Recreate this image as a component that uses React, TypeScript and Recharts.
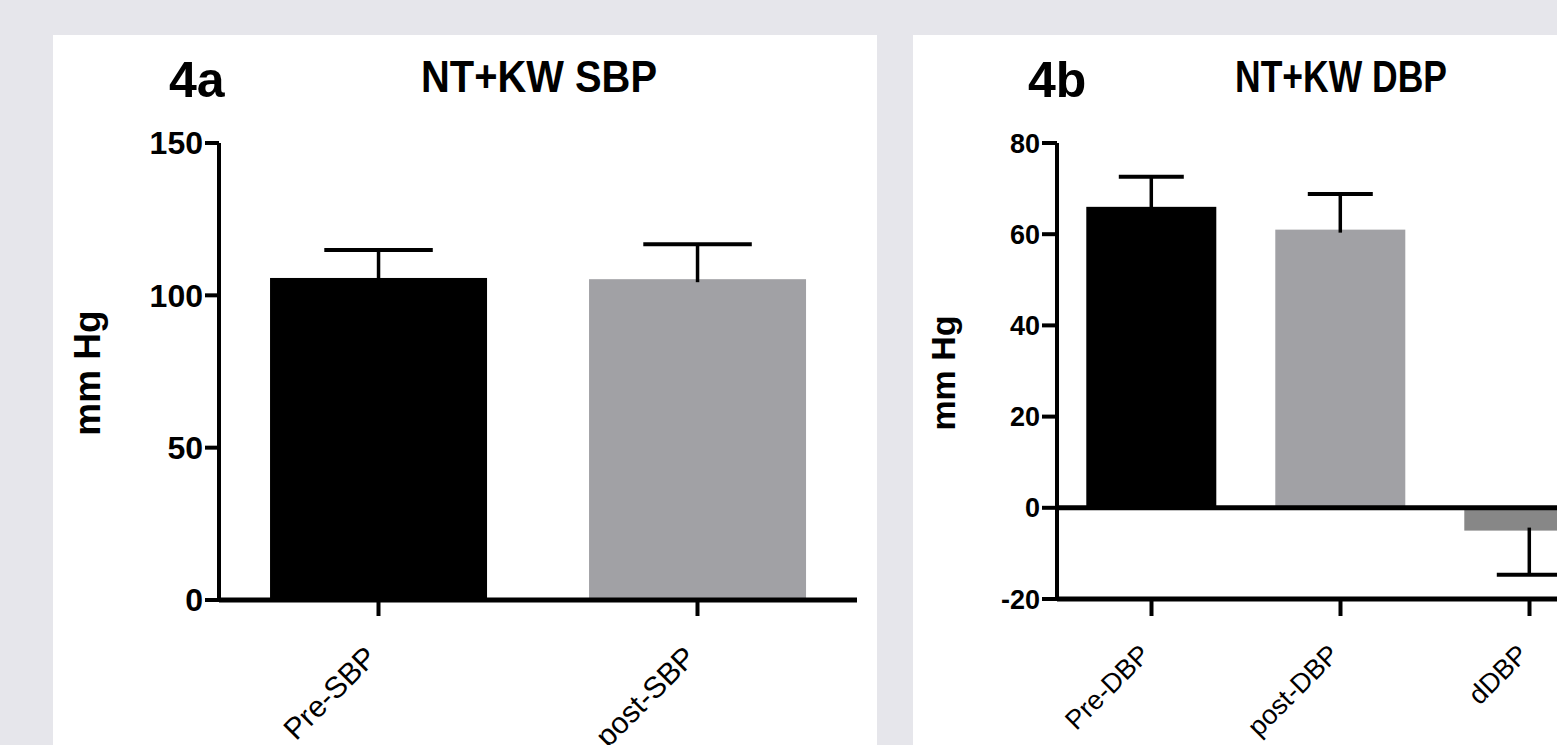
import React from 'react';
import { BarChart, Bar, XAxis, YAxis, Cell, ReferenceLine } from 'recharts';

// 4a: systolic
const sbpCategories = ['Pre-SBP', 'post-SBP'];
const sbpMeans = [105.7, 105.3];
const sbpErrors = [9.2, 11.5];
const sbpTicks = [0, 50, 100, 150];

// 4b: diastolic
const dbpCategories = ['Pre-DBP', 'post-DBP', 'dDBP'];
const dbpMeans = [66.0, 61.0, -5.0];
const dbpErrors = [6.6, 7.8, 9.7];
const dbpTicks = [-20, 0, 20, 40, 60, 80];

const sbpData = sbpCategories.map((name, i) => ({ name, value: sbpMeans[i], err: sbpErrors[i] }));
const dbpData = dbpCategories.map((name, i) => ({ name, value: dbpMeans[i], err: dbpErrors[i] }));

const SBP_COLORS = ['#000000', '#a1a1a5'];
const DBP_COLORS = ['#000000', '#a1a1a5', '#878787'];

const FONT = '"Liberation Sans", Arial, Helvetica, sans-serif';

// bar + one-sided SEM whisker, scaled from the bar's own pixel height
const BarWithError = (props: any) => {
  const { x, y, width, height, fill, payload } = props;
  if (x == null || y == null) return null;
  const top = Math.min(y, y + height);
  const bottom = Math.max(y, y + height);
  const v = payload.value;
  const ppu = (bottom - top) / Math.abs(v);
  const end = v >= 0 ? top : bottom;
  const dir = v >= 0 ? -1 : 1;
  const errEnd = end + dir * payload.err * ppu;
  const cx = x + width / 2;
  const cap = width / 2;
  return (
    <g>
      <rect x={x} y={top} width={width} height={bottom - top} fill={fill} />
      <line x1={cx} x2={cx} y1={end - dir * 3} y2={errEnd} stroke="#000" strokeWidth={3.5} />
      <line x1={cx - cap / 2} x2={cx + cap / 2} y1={errEnd} y2={errEnd} stroke="#000" strokeWidth={4} />
    </g>
  );
};

const makeXTick = (fontSize: number, dy: number) => (props: any) => {
  const { x, y, payload } = props;
  const ty = y + dy;
  return (
    <text
      x={x}
      y={ty}
      textAnchor="end"
      transform={`rotate(-45, ${x}, ${ty})`}
      fontSize={fontSize}
      fontFamily={FONT}
      fill="#000"
    >
      {payload.value}
    </text>
  );
};

const overlayStyle: React.CSSProperties = {
  position: 'absolute',
  left: 0,
  top: 0,
  width: '100%',
  height: '100%',
  pointerEvents: 'none',
};

export default function App() {
  return (
    <div
      style={{
        position: 'fixed',
        left: 0,
        top: 0,
        width: 1557,
        height: 745,
        background: '#e6e6eb',
        overflow: 'hidden',
        fontFamily: FONT,
      }}
    >
      {/* panel 4a */}
      <div style={{ position: 'absolute', left: 53, top: 35, width: 824, height: 710, background: '#fff' }}>
        <BarChart
          width={824}
          height={710}
          data={sbpData}
          margin={{ top: 108, right: 20, left: 0, bottom: 0 }}
          barCategoryGap="16%"
        >
          <YAxis
            width={166}
            domain={[0, 150]}
            ticks={sbpTicks}
            tickSize={14}
            axisLine={{ stroke: '#000', strokeWidth: 4 }}
            tickLine={{ stroke: '#000', strokeWidth: 4 }}
            tick={{ fill: '#000', fontSize: 32, fontWeight: 'bold', fontFamily: FONT }}
          />
          <XAxis
            dataKey="name"
            height={145}
            tickSize={16}
            axisLine={{ stroke: '#000', strokeWidth: 5 }}
            tickLine={{ stroke: '#000', strokeWidth: 4 }}
            tick={makeXTick(30, 41)}
            interval={0}
          />
          <Bar dataKey="value" shape={BarWithError} isAnimationActive={false}>
            {sbpData.map((d, i) => (
              <Cell key={d.name} fill={SBP_COLORS[i]} />
            ))}
          </Bar>
        </BarChart>
        <svg style={overlayStyle}>
          <text x={116} y={62} fontSize={50} fontWeight="bold" fontFamily={FONT} fill="#000">4a</text>
          <text
            x={368}
            y={57}
            fontSize={44}
            fontWeight="bold"
            fontFamily={FONT}
            fill="#000"
            textLength={236}
            lengthAdjust="spacingAndGlyphs"
          >
            NT+KW SBP
          </text>
          <text
            transform="translate(47,338) rotate(-90)"
            textAnchor="middle"
            fontSize={37}
            fontWeight="bold"
            fontFamily={FONT}
            fill="#000"
          >
            mm Hg
          </text>
        </svg>
      </div>

      {/* panel 4b */}
      <div style={{ position: 'absolute', left: 913, top: 35, width: 731, height: 710, background: '#fff' }}>
        <BarChart
          width={731}
          height={710}
          data={dbpData}
          margin={{ top: 108, right: 20, left: 0, bottom: 0 }}
          barCategoryGap="15.5%"
        >
          <YAxis
            width={144}
            domain={[-20, 80]}
            ticks={dbpTicks}
            tickSize={15}
            axisLine={{ stroke: '#000', strokeWidth: 4 }}
            tickLine={{ stroke: '#000', strokeWidth: 4 }}
            tick={{ fill: '#000', fontSize: 27, fontWeight: 'bold', fontFamily: FONT }}
          />
          <XAxis
            dataKey="name"
            height={146}
            tickSize={17}
            axisLine={{ stroke: '#000', strokeWidth: 5 }}
            tickLine={{ stroke: '#000', strokeWidth: 4 }}
            tick={makeXTick(27, 38)}
            interval={0}
          />
          <ReferenceLine y={0} stroke="#000" strokeWidth={5} />
          <Bar dataKey="value" shape={BarWithError} isAnimationActive={false}>
            {dbpData.map((d, i) => (
              <Cell key={d.name} fill={DBP_COLORS[i]} />
            ))}
          </Bar>
        </BarChart>
        <svg style={overlayStyle}>
          <text x={115} y={62} fontSize={50} fontWeight="bold" fontFamily={FONT} fill="#000">4b</text>
          <text
            x={322}
            y={57}
            fontSize={44}
            fontWeight="bold"
            fontFamily={FONT}
            fill="#000"
            textLength={212}
            lengthAdjust="spacingAndGlyphs"
          >
            NT+KW DBP
          </text>
          <text
            transform="translate(42,338) rotate(-90)"
            textAnchor="middle"
            fontSize={34}
            fontWeight="bold"
            fontFamily={FONT}
            fill="#000"
          >
            mm Hg
          </text>
        </svg>
      </div>
    </div>
  );
}
